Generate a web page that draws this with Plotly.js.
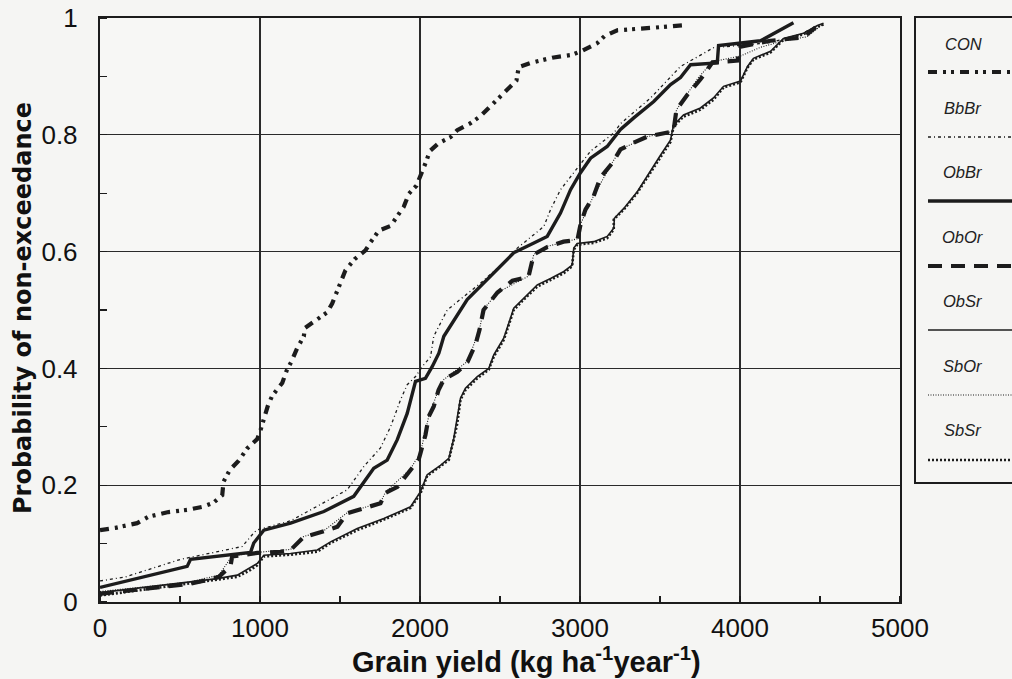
<!DOCTYPE html>
<html>
<head>
<meta charset="utf-8">
<script src="https://cdn.plot.ly/plotly-3.0.1.min.js"></script>
<style>
  html, body { margin: 0; padding: 0; background: #f5f5f3; }
  #chart { width: 1012px; height: 679px; }
</style>
</head>
<body>
<div id="chart"></div>
<script>
// ---- data (grain yield kg/ha, probability of non-exceedance) ----
const seriesNames = ["CON", "BbBr", "ObBr", "ObOr", "ObSr", "SbOr", "SbSr"];

const CON_x = [0, 97, 232, 303, 428, 553, 639, 709, 764, 772, 811, 867, 920, 983, 1003, 1028, 1049, 1076, 1139, 1166, 1197, 1233, 1274, 1280, 1358, 1420, 1451, 1483, 1509, 1534, 1591, 1659, 1691, 1743, 1816, 1847, 1899, 1930, 1978, 2041, 2061, 2118, 2191, 2233, 2316, 2378, 2420, 2493, 2561, 2603, 2617, 2691, 2826, 2951, 3014, 3108, 3153, 3233, 3441, 3659];
const CON_y = [0.123, 0.127, 0.135, 0.146, 0.154, 0.158, 0.163, 0.170, 0.183, 0.206, 0.226, 0.242, 0.263, 0.279, 0.294, 0.318, 0.336, 0.353, 0.375, 0.396, 0.412, 0.435, 0.455, 0.469, 0.483, 0.496, 0.511, 0.532, 0.553, 0.568, 0.587, 0.602, 0.616, 0.636, 0.644, 0.656, 0.677, 0.699, 0.713, 0.756, 0.772, 0.786, 0.796, 0.808, 0.820, 0.832, 0.843, 0.863, 0.881, 0.893, 0.916, 0.923, 0.932, 0.937, 0.944, 0.957, 0.969, 0.979, 0.983, 0.988];

const BbBr_x = [0, 159, 503, 889, 941, 978, 1191, 1545, 1649, 1753, 1816, 1878, 1920, 1972, 2014, 2066, 2086, 2170, 2274, 2378, 2545, 2608, 2774, 2816, 2878, 2961, 3066, 3211, 3253, 3441, 3628, 3834, 4191, 4378, 4472];
const BbBr_y = [0.036, 0.043, 0.073, 0.095, 0.112, 0.123, 0.139, 0.192, 0.232, 0.264, 0.300, 0.346, 0.372, 0.386, 0.403, 0.420, 0.455, 0.500, 0.523, 0.546, 0.586, 0.606, 0.643, 0.672, 0.706, 0.735, 0.772, 0.803, 0.819, 0.863, 0.917, 0.949, 0.958, 0.972, 0.985];

const ObBr_x = [0, 545, 566, 941, 961, 1024, 1191, 1399, 1586, 1628, 1711, 1795, 1858, 1920, 1961, 1972, 2034, 2076, 2118, 2149, 2295, 2441, 2586, 2670, 2795, 2878, 2941, 3003, 3066, 3170, 3253, 3336, 3461, 3566, 3628, 3691, 3858, 3866, 4128, 4334];
const ObBr_y = [0.025, 0.061, 0.073, 0.085, 0.101, 0.123, 0.135, 0.155, 0.181, 0.198, 0.229, 0.243, 0.278, 0.323, 0.369, 0.378, 0.383, 0.403, 0.426, 0.455, 0.518, 0.558, 0.598, 0.609, 0.626, 0.666, 0.706, 0.735, 0.760, 0.780, 0.809, 0.829, 0.857, 0.886, 0.898, 0.920, 0.923, 0.953, 0.961, 0.992];

const ObOr_x = [0, 555, 659, 743, 816, 826, 983, 1128, 1191, 1222, 1272, 1399, 1484, 1545, 1672, 1753, 1784, 1859, 1941, 1991, 2003, 2034, 2055, 2086, 2116, 2149, 2234, 2297, 2347, 2372, 2397, 2484, 2578, 2678, 2711, 2797, 2897, 2984, 3003, 3034, 3084, 3128, 3203, 3253, 3347, 3422, 3584, 3603, 3672, 3753, 3828, 3984, 4003, 4191, 4397, 4472];
const ObOr_y = [0.014, 0.031, 0.037, 0.043, 0.062, 0.078, 0.084, 0.086, 0.089, 0.098, 0.111, 0.121, 0.129, 0.152, 0.163, 0.169, 0.187, 0.197, 0.226, 0.243, 0.255, 0.286, 0.318, 0.335, 0.363, 0.381, 0.394, 0.411, 0.441, 0.466, 0.500, 0.530, 0.550, 0.557, 0.595, 0.608, 0.617, 0.620, 0.646, 0.672, 0.694, 0.727, 0.752, 0.775, 0.788, 0.797, 0.806, 0.843, 0.869, 0.895, 0.924, 0.927, 0.951, 0.961, 0.967, 0.984];

const ObSr_x = [0, 733, 858, 983, 1024, 1191, 1358, 1441, 1608, 1774, 1941, 2003, 2045, 2128, 2180, 2211, 2253, 2284, 2358, 2430, 2461, 2524, 2586, 2649, 2733, 2816, 2899, 2951, 2961, 2983, 3086, 3170, 3211, 3215, 3274, 3359, 3422, 3503, 3566, 3584, 3647, 3753, 3834, 3897, 4003, 4047, 4084, 4191, 4272, 4397, 4484, 4522];
const ObSr_y = [0.016, 0.040, 0.046, 0.066, 0.080, 0.083, 0.089, 0.103, 0.126, 0.143, 0.163, 0.189, 0.218, 0.234, 0.246, 0.280, 0.349, 0.366, 0.386, 0.400, 0.423, 0.452, 0.503, 0.520, 0.543, 0.554, 0.566, 0.577, 0.606, 0.614, 0.617, 0.626, 0.640, 0.657, 0.674, 0.703, 0.731, 0.765, 0.791, 0.816, 0.834, 0.846, 0.863, 0.883, 0.892, 0.917, 0.931, 0.943, 0.965, 0.974, 0.987, 0.991];

const SbOr_x = [0, 555, 743, 826, 983, 1191, 1272, 1399, 1545, 1753, 1784, 1941, 2003, 2055, 2116, 2149, 2297, 2372, 2397, 2484, 2678, 2711, 2797, 2984, 3003, 3084, 3203, 3253, 3422, 3584, 3603, 3672, 3740, 3828, 4003, 4130, 4260, 4420, 4516];
const SbOr_y = [0.018, 0.034, 0.046, 0.079, 0.085, 0.090, 0.112, 0.122, 0.153, 0.170, 0.188, 0.228, 0.256, 0.318, 0.364, 0.381, 0.412, 0.467, 0.501, 0.530, 0.558, 0.595, 0.609, 0.622, 0.647, 0.695, 0.753, 0.775, 0.797, 0.806, 0.843, 0.870, 0.898, 0.925, 0.935, 0.950, 0.960, 0.968, 0.989];

const SbSr_x = [0, 733, 858, 941, 983, 1024, 1191, 1358, 1441, 1608, 1774, 1941, 2003, 2045, 2128, 2180, 2211, 2233, 2253, 2284, 2358, 2430, 2461, 2524, 2586, 2649, 2733, 2816, 2899, 2951, 2961, 2983, 3086, 3170, 3211, 3211, 3274, 3359, 3422, 3503, 3566, 3584, 3647, 3753, 3834, 3897, 4003, 4047, 4084, 4191, 4272, 4397, 4484, 4522];
const SbSr_y = [0.011, 0.038, 0.043, 0.055, 0.063, 0.078, 0.081, 0.086, 0.101, 0.123, 0.141, 0.161, 0.186, 0.216, 0.232, 0.243, 0.278, 0.306, 0.346, 0.363, 0.383, 0.398, 0.420, 0.449, 0.500, 0.518, 0.540, 0.552, 0.563, 0.575, 0.603, 0.612, 0.615, 0.623, 0.638, 0.655, 0.672, 0.701, 0.728, 0.763, 0.788, 0.814, 0.831, 0.843, 0.860, 0.881, 0.890, 0.915, 0.929, 0.941, 0.963, 0.972, 0.985, 0.989];

const xTickVals = [0, 1000, 2000, 3000, 4000, 5000];
const xTickText = ["0", "1000", "2000", "3000", "4000", "5000"];
const yTickVals = [0, 0.2, 0.4, 0.6, 0.8, 1];
const yTickText = ["0", "0.2", "0.4", "0.6", "0.8", "1"];

// ---- styles ----
const INK = "#1c1c1c";
const styles = {
  CON:  {width: 4.2, dash: "9px,6px,3px,5px,3px,6px"},
  BbBr: {width: 1.3, dash: "3px,3px,1px,3px"},
  ObBr: {width: 3.4, dash: "solid"},
  ObOr: {width: 4.2, dash: "14px,9px"},
  ObSr: {width: 1.6, dash: "solid"},
  SbOr: {width: 1.1, dash: "1px,1.5px"},
  SbSr: {width: 2.6, dash: "2px,2px"}
};
const dataMap = {
  CON: [CON_x, CON_y], BbBr: [BbBr_x, BbBr_y], ObBr: [ObBr_x, ObBr_y],
  ObOr: [ObOr_x, ObOr_y], ObSr: [ObSr_x, ObSr_y], SbOr: [SbOr_x, SbOr_y], SbSr: [SbSr_x, SbSr_y]
};

const traces = seriesNames.map(n => ({
  type: "scatter", mode: "lines", name: n,
  x: dataMap[n][0], y: dataMap[n][1],
  line: {color: INK, width: styles[n].width, dash: styles[n].dash},
  showlegend: false, hoverinfo: "x+y+name"
}));

// ---- layout geometry (pixels) ----
const W = 1012, H = 679;
const M = {l: 100, r: 112, t: 18, b: 77};
const plotW = W - M.l - M.r, plotH = H - M.t - M.b;
const px2paperX = px => (px - M.l) / plotW;
const py2paperY = py => (H - M.b - py) / plotH;

const shapes = [];
const annotations = [];

// custom legend box (text above line sample)
shapes.push({type: "rect", xref: "paper", yref: "paper",
  x0: px2paperX(915), x1: px2paperX(1030), y0: py2paperY(483), y1: py2paperY(17),
  line: {color: INK, width: 2}, fillcolor: "rgba(0,0,0,0)", layer: "above"});

const legTextY = [44, 108, 172, 237, 301, 366, 430];
const legLineY = [72, 137, 201, 266, 330, 395, 460];
seriesNames.forEach((n, i) => {
  annotations.push({xref: "paper", yref: "paper", x: px2paperX(963), y: py2paperY(legTextY[i]),
    text: n, showarrow: false, xanchor: "center", yanchor: "middle",
    font: {family: "Liberation Sans, Arial, sans-serif", size: 16.5, style: "italic", color: "#222"}});
  shapes.push({type: "line", xref: "paper", yref: "paper",
    x0: px2paperX(928), x1: px2paperX(1014), y0: py2paperY(legLineY[i]), y1: py2paperY(legLineY[i]),
    line: {color: INK, width: styles[n].width, dash: styles[n].dash}});
});

// axis titles
annotations.push({xref: "paper", yref: "paper", x: px2paperX(526), y: py2paperY(660),
  text: "Grain yield (kg ha<sup>-1</sup>year<sup>-1</sup>)", showarrow: false,
  xanchor: "center", yanchor: "middle",
  font: {family: "Liberation Sans, Arial, sans-serif", size: 29, weight: "bold", color: "#111"}});
annotations.push({xref: "paper", yref: "paper", x: px2paperX(23), y: py2paperY(308),
  text: "Probability of non-exceedance", showarrow: false, textangle: -90,
  xanchor: "center", yanchor: "middle",
  font: {family: "DejaVu Sans, sans-serif", size: 24, weight: "bold", color: "#111"}});

const tickFont = {family: "Liberation Sans, Arial, sans-serif", size: 26, color: "#111"};

const layout = {
  width: W, height: H,
  margin: M,
  paper_bgcolor: "#f5f5f3", plot_bgcolor: "#f7f7f5",
  showlegend: false,
  xaxis: {
    range: [0, 5000], tickvals: xTickVals, ticktext: xTickText,
    showgrid: true, gridcolor: "#2a2a2a", gridwidth: 1.3,
    showline: true, linecolor: INK, linewidth: 2.2, mirror: true,
    ticks: "", zeroline: false, tickfont: tickFont, ticklabelstandoff: 2,
    ticklabeloverflow: "allow",
    minor: {dtick: 500, tick0: 0, ticks: "inside", ticklen: 6, tickcolor: INK, tickwidth: 1.3, showgrid: false},
    fixedrange: true
  },
  yaxis: {
    range: [0, 1], tickvals: yTickVals, ticktext: yTickText,
    showgrid: true, gridcolor: "#2a2a2a", gridwidth: 1.3,
    showline: true, linecolor: INK, linewidth: 2.2, mirror: true,
    ticks: "", zeroline: false, tickfont: tickFont, ticklabelstandoff: 15,
    ticklabeloverflow: "allow",
    minor: {dtick: 0.1, tick0: 0, ticks: "inside", ticklen: 7, tickcolor: INK, tickwidth: 1.3, showgrid: false},
    fixedrange: true
  },
  shapes: shapes,
  annotations: annotations
};

Plotly.newPlot("chart", traces, layout, {displayModeBar: false, staticPlot: true});
</script>
</body>
</html>
